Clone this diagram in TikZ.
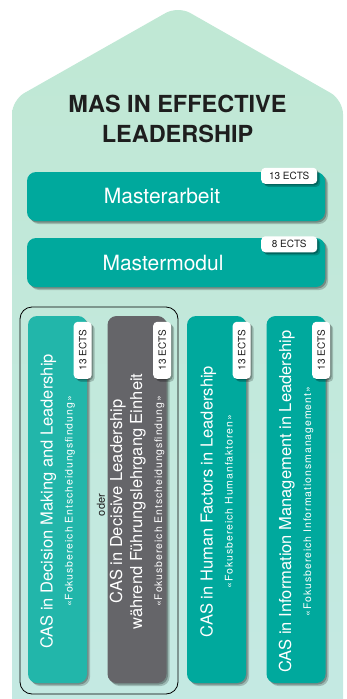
\documentclass[tikz,border=0pt]{standalone}
\usepackage{fontspec}
\usepackage{graphicx}
\setmainfont{TeX Gyre Heros}
\usetikzlibrary{calc}
\usetikzlibrary{shadows}
\definecolor{housetop}{HTML}{C0E8D4}
\definecolor{housebottom}{HTML}{C4E9E3}
\definecolor{casteal}{HTML}{00A99D}
\definecolor{caslight}{HTML}{22B6AA}
\definecolor{casgray}{HTML}{656569}
\definecolor{titleink}{HTML}{1E1E1E}
\tikzstyle{softshadow}=[drop shadow={shadow xshift=1.5pt,shadow yshift=-1.5pt,opacity=0.25,fill=black},drop shadow={shadow xshift=3pt,shadow yshift=-3pt,opacity=0.2,fill=black}]
\tikzstyle{modulebox}=[softshadow,fill=casteal,rounded corners=9pt,minimum width=298pt,minimum height=49pt,inner sep=0pt]
\tikzstyle{modulelabel}=[text=white,font=\fontsize{21}{25}\selectfont,anchor=base]
\tikzstyle{ectsbadge}=[softshadow,fill=white,rounded corners=4pt,inner sep=0pt,text=titleink,font=\fontsize{10}{12}\selectfont]
\tikzstyle{casbox}=[softshadow,rounded corners=9pt,minimum width=59pt,minimum height=367pt,inner sep=0pt]
\tikzstyle{castext}=[text=white,rotate=90,align=center,font=\fontsize{16.5}{20}\selectfont]
\newcommand{\fokus}[1]{{\fontsize{10.5}{12}\selectfont\addfontfeatures{LetterSpace=9}#1}}
\newcommand{\drawCAScolumn}[4]{% name, x centre, fill colour, text
	\node[casbox,fill=#3] (#1) at (#2,499.5) {};
	\node[ectsbadge,minimum width=18pt,minimum height=57pt] (#1 ects) at ($(#1.north east)+(-4.5,34.5)$) {\rotatebox{90}{13 ECTS}};
	\node[castext] (#1 text) at ($(#1.center)+(0,2)$) {#4};
}

\begin{document}
\begin{tikzpicture}[x=1pt,y=-1pt]
\useasboundingbox (0,0) rectangle (346,699);
% house background
\shade[top color=housetop,bottom color=housebottom,rounded corners=14pt] (12,720) -- (12,100) -- (178,6) -- (343,100) -- (343,720) -- cycle;
\node[font=\bfseries\fontsize{23.5}{30}\selectfont,align=center,text=titleink] (title) at (177.5,119) {MAS IN EFFECTIVE\\LEADERSHIP};
% master modules
\node[modulebox] (masterarbeit) at (176,196.5) {};
\node[modulelabel] (masterarbeit label) at (162,203) {Masterarbeit};
\node[ectsbadge,minimum width=56pt,minimum height=16pt] (masterarbeit ects) at ($(masterarbeit.north east)+(-36,4)$) {13 ECTS};
\node[modulebox] (mastermodul) at (176,262.5) {};
\node[modulelabel] (mastermodul label) at (163,270) {Mastermodul};
\node[ectsbadge,minimum width=56pt,minimum height=16pt] (mastermodul ects) at ($(mastermodul.north east)+(-36,6.5)$) {8 ECTS};
% CAS columns
\draw[line width=0.8pt,rounded corners=12pt] (20,307) rectangle (178,694);
\drawCAScolumn{decision}{57.5}{caslight}{CAS in Decision Making and Leadership\\\fokus{«Fokusbereich Entscheidungsfindung»}}
\drawCAScolumn{decisive}{137}{casgray}{CAS in Decisive Leadership\\während Führungslehrgang Einheit\\\fokus{«Fokusbereich Entscheidungsfindung»}}
\drawCAScolumn{human}{216.5}{casteal}{CAS in Human Factors in Leadership\\\fokus{«Fokusbereich Humanfaktoren»}}
\drawCAScolumn{information}{296}{casteal}{CAS in Information Management in Leadership\\\fokus{«Fokusbereich Informationsmanagement»}}
\node[rotate=90,text=titleink,font=\fontsize{11}{13}\selectfont] (oder) at (101,505) {oder};
\end{tikzpicture}
\end{document}
